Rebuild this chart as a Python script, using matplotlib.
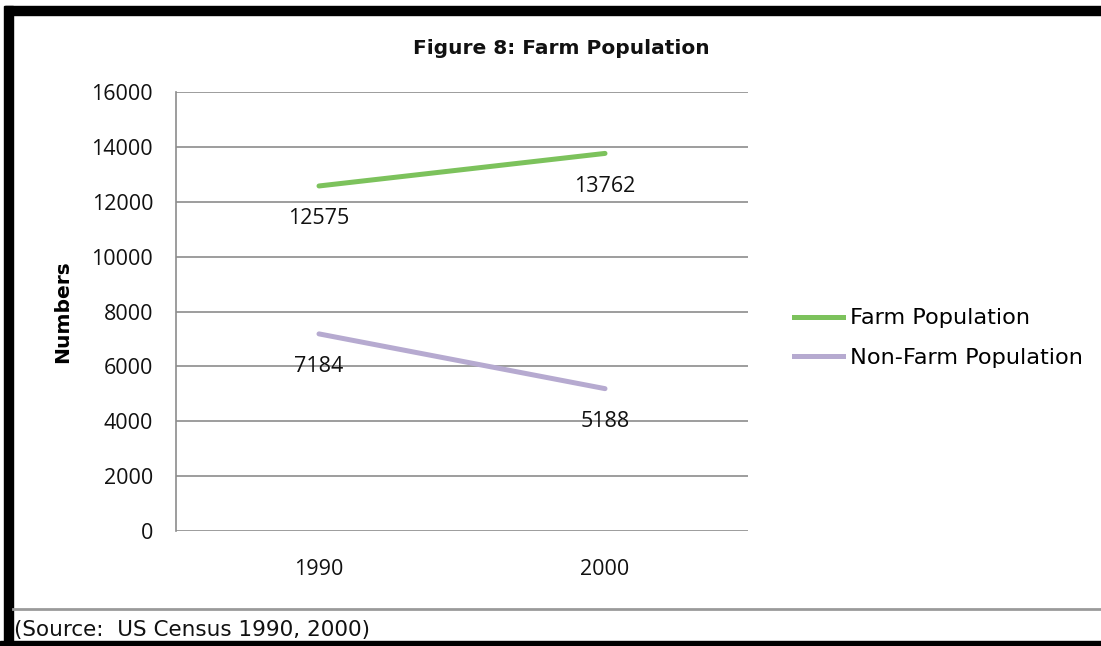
import matplotlib
matplotlib.use("Agg")
import matplotlib.pyplot as plt
from matplotlib.patches import Rectangle
from matplotlib.lines import Line2D

years = ["1990", "2000"]
farm = [12575, 13762]
non_farm = [7184, 5188]
series_names = ["Farm Population", "Non-Farm Population"]
yticks = [0, 2000, 4000, 6000, 8000, 10000, 12000, 14000, 16000]

W, H = 1101, 646
fig = plt.figure(figsize=(W / 100, H / 100), dpi=100)
fig.patch.set_facecolor("white")

# axes box in pixels: x 176..748, y 92..531
ax = fig.add_axes([176 / W, 1 - 531 / H, (748 - 176) / W, (531 - 92) / H])

x = range(len(years))
green = "#7CC25C"
purple = "#B6AAD0"
ax.plot(x, farm, color=green, lw=3.6, solid_capstyle="round")
ax.plot(x, non_farm, color=purple, lw=3.6, solid_capstyle="round")

for vals in (farm, non_farm):
    for i, v in enumerate(vals):
        ax.annotate(str(v), (i, v), xytext=(0, -33), textcoords="offset pixels",
                    ha="center", va="center", fontsize=15.5, family="Open Sans", color="#111111")

ax.set_xlim(-0.5, 1.5)
ax.set_ylim(0, 16000)
ax.set_yticks(yticks)
ax.set_yticklabels([str(t) for t in yticks], family="Open Sans", fontsize=15.5)
ax.set_xticks(list(x))
ax.set_xticklabels(years, family="Open Sans", fontsize=15.5)
ax.tick_params(length=0, colors="#111111")
ax.tick_params(axis="y", pad=16.5)
ax.tick_params(axis="x", pad=20)
ax.grid(axis="y", color="#8c8c8c", lw=1.2)
ax.set_axisbelow(True)
for s in ["top", "right", "bottom"]:
    ax.spines[s].set_visible(False)
ax.spines["left"].set_color("#8c8c8c")
ax.spines["left"].set_linewidth(1.2)

ax.set_ylabel("Numbers", fontsize=14.6, fontweight="bold", family="DejaVu Sans", labelpad=14)

fig.text(561 / W, 1 - 48 / H, "Figure 8: Farm Population", ha="center", va="center",
         fontsize=14.5, fontweight="bold", family="DejaVu Sans", color="#111111")

# legend
handles = [Line2D([], [], color=green, lw=3.6), Line2D([], [], color=purple, lw=3.6)]
fig.legend(handles, series_names, loc="center left", bbox_to_anchor=(778 / W, 1 - 338 / H),
           frameon=False, handlelength=2.2, handletextpad=0.3,
           labelspacing=0.85, borderpad=0.2, prop={"family": "DejaVu Sans", "size": 16.1})

# separator and source
fig.add_artist(Line2D([13 / W, 1], [1 - 609 / H] * 2, color="#9a9a9a", lw=2))
fig.text(14 / W, 1 - 630 / H, "(Source:  US Census 1990, 2000)", ha="left", va="center",
         fontsize=15.5, family="DejaVu Sans", color="#111111")

# black frame bits
fig.add_artist(Rectangle((5 / W, 1 - 15 / H), 1, 9 / H, color="black", transform=fig.transFigure))
fig.add_artist(Rectangle((4 / W, 0), 9 / W, 1 - 6 / H, color="black", transform=fig.transFigure))
fig.add_artist(Rectangle((0, 0), 1, 5 / H, color="black", transform=fig.transFigure))

fig.savefig("out.png", dpi=100)
